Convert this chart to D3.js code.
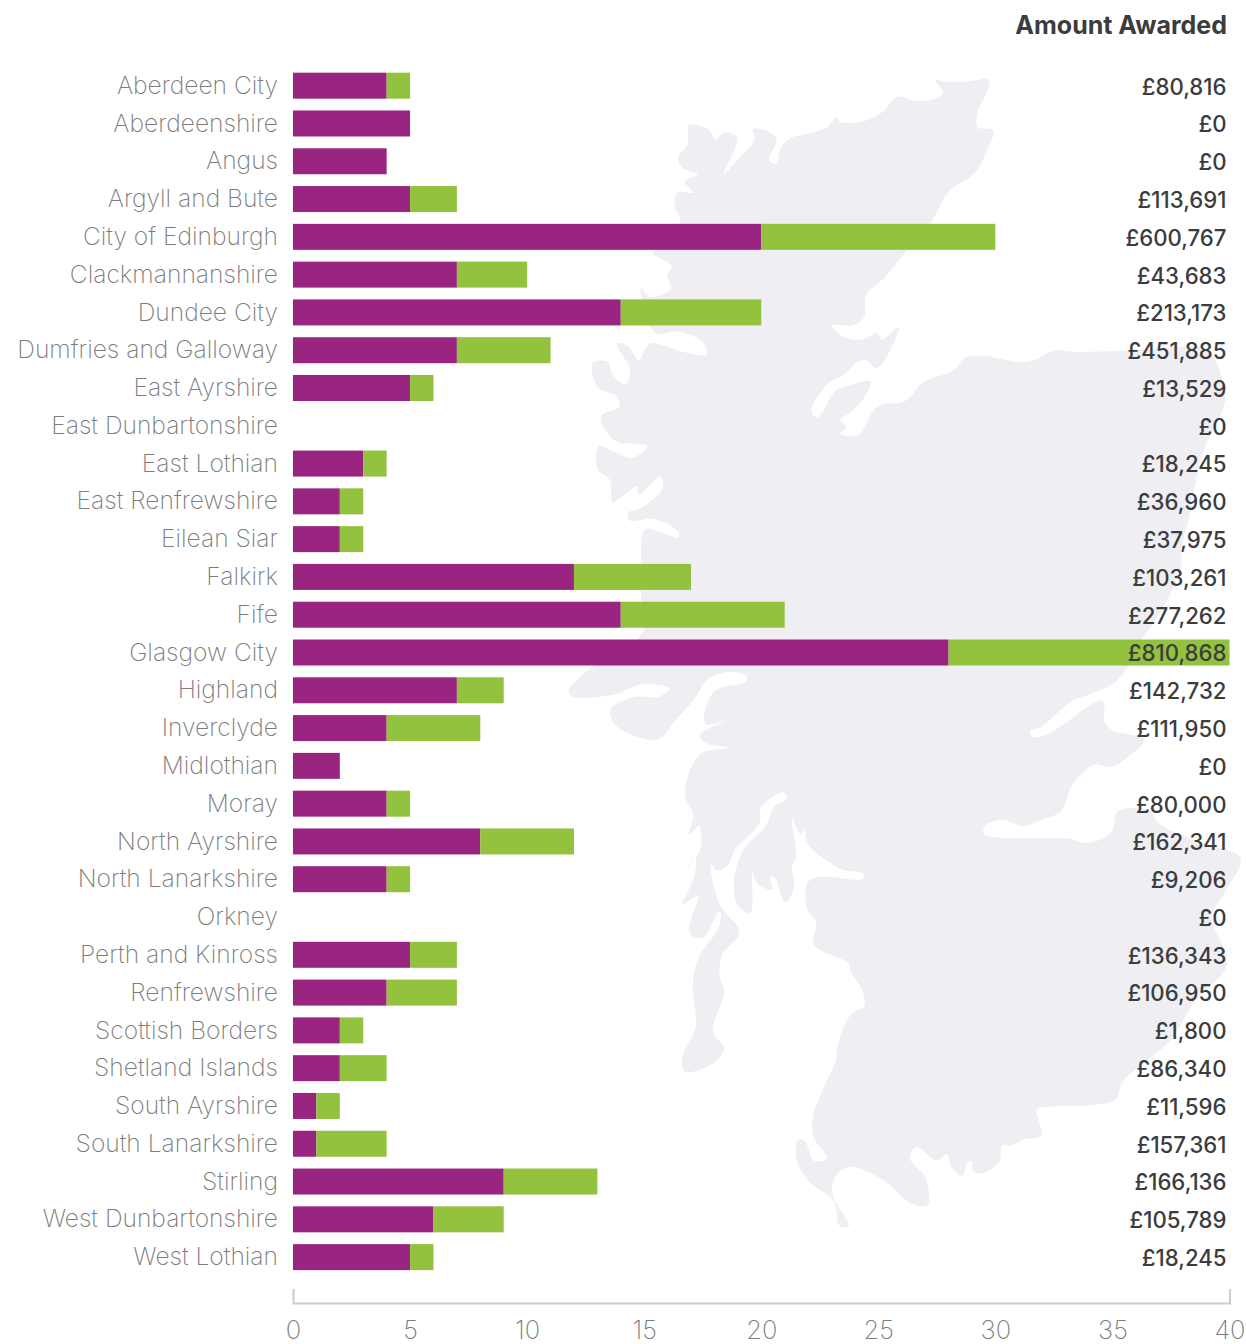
<!DOCTYPE html>
<html>
<head>
<meta charset="utf-8">
<script src="https://cdnjs.cloudflare.com/ajax/libs/d3/7.8.5/d3.min.js"></script>
<style>
  html, body { margin: 0; padding: 0; background: #fff; }
  svg { display: block; }
  .cat { font-family: Inter, sans-serif; font-weight: 200; font-size: 24.6px; fill: #7c7c7c; }
  .val { font-family: Inter, sans-serif; font-weight: 500; font-size: 22.2px; fill: #3a3c3e; }
  .title { font-family: Inter, sans-serif; font-weight: 700; font-size: 25px; fill: #3a3c3e; }
  .x-axis text { font-family: Inter, sans-serif; font-weight: 200; font-size: 25.5px; fill: #7c7c7c; }
</style>
</head>
<body>
<div id="chart"></div>
<script>
var categories = ["Aberdeen City", "Aberdeenshire", "Angus", "Argyll and Bute", "City of Edinburgh",
  "Clackmannanshire", "Dundee City", "Dumfries and Galloway", "East Ayrshire", "East Dunbartonshire",
  "East Lothian", "East Renfrewshire", "Eilean Siar", "Falkirk", "Fife", "Glasgow City", "Highland",
  "Inverclyde", "Midlothian", "Moray", "North Ayrshire", "North Lanarkshire", "Orkney",
  "Perth and Kinross", "Renfrewshire", "Scottish Borders", "Shetland Islands", "South Ayrshire",
  "South Lanarkshire", "Stirling", "West Dunbartonshire", "West Lothian"];
var purpleValues = [4, 5, 4, 5, 20, 7, 14, 7, 5, 0, 3, 2, 2, 12, 14, 28, 7, 4, 2, 4, 8, 4, 0, 5, 4, 2, 2, 1, 1, 9, 6, 5];
var greenValues = [1, 0, 0, 2, 10, 3, 6, 4, 1, 0, 1, 1, 1, 5, 7, 12, 2, 4, 0, 1, 4, 1, 0, 2, 3, 1, 2, 1, 3, 4, 3, 1];
var amounts = [80816, 0, 0, 113691, 600767, 43683, 213173, 451885, 13529, 0, 18245, 36960, 37975, 103261,
  277262, 810868, 142732, 111950, 0, 80000, 162341, 9206, 0, 136343, 106950, 1800, 86340, 11596, 157361,
  166136, 105789, 18245];
var xTicks = [0, 5, 10, 15, 20, 25, 30, 35, 40];

// map outline in crop coordinates
var mapNorth = [[295,160],[340,170],[355,195],[375,178],[405,190],[375,278],[410,240],[445,195],[440,170],[470,172],[495,195],[478,245],[495,255],[505,215],[530,190],[570,180],[610,165],[632,140],[640,152],[700,148],[740,125],[770,90],[815,100],[865,92],[875,75],[858,50],[895,55],[935,52],[980,48],
  [975,80],[955,125],[955,165],[990,172],[975,225],[945,280],[890,320],[850,395],[790,470],[740,535],[700,575],[695,630],[670,650],[622,650],[650,680],[690,685],[725,670],[735,685],[775,655],[725,755],[700,735],[680,740],[650,770],[610,795],[575,860],[590,875],[630,810],[660,798],[710,788],[690,835],[655,870],[640,880],[655,900],[640,915],[680,920],[725,850],[790,835],[830,790],[900,760],[925,730],[970,725],[1050,740],[1085,735],[1130,712],[1170,715],[1300,712],[1390,705],[1470,705],[1500,740],[1520,830],[1510,870],[1470,960],[1450,1050],[1440,1110],[1420,1200],[1420,1240],[1380,1340],[1330,1420]];
var mapSouth = [[1275,0],[1220,30],[1170,50],[1100,110],[1075,120],[1080,135],[1120,125],[1240,50],[1245,100],[1265,120],[1335,140],[1300,180],[1260,205],[1220,200],[1170,250],[1145,310],[1100,330],[1060,345],[1010,330],[970,345],[970,365],[1000,372],[1165,375],[1205,385],[1260,360],[1275,310],[1350,310],[1370,340],[1470,385],[1555,420],[1520,500],[1490,560],[1525,670],[1450,760],[1395,850],[1340,900],[1285,950],[1270,990],[1200,1005],[1115,1008],[1090,1015],[1100,1075],[1060,1085],[1030,1100],[1010,1100],[1005,1135],[965,1165],[945,1160],[940,1135],[930,1140],[920,1170],[895,1150],[885,1120],[860,1135],[815,1103],[800,1130],[835,1175],[840,1240],[800,1235],[745,1185],[660,1150],[625,1180],[625,1220],[660,1290],[640,1290],[625,1230],[570,1185],[540,1130],[545,1085],[560,1090],[580,1135],[610,1130],[580,1080],[578,1030],[600,970],[630,900],[635,860],[665,790],[695,770],[690,730],[665,690],[660,670],[600,640],[580,625],[585,570],[565,540],[565,480],[590,465],[690,470],[695,458],[640,445],[565,385],[560,350],[550,365],[530,325],[540,420],[530,440],[535,490],[515,525],[490,465],[480,465],[485,495],[450,480],[440,455],[435,550],[405,530],[398,470],[420,400],[470,345],[490,300],[520,280],[510,265],[460,300],[455,340],[400,400],[385,435],[360,450],[345,435],[365,530],[410,595],[370,650],[365,700],[375,735],[350,830],[375,870],[350,905],[285,925],[280,890],[310,820],[303,720],[315,660],[365,580],[365,545],[325,610],[295,595],[315,510],[280,530],[305,470],[310,420],[285,450],[320,400],[318,345],[295,365],[305,320],[285,270],[320,175],[385,160],[335,150],[320,130],[380,95],[335,105],[330,80],[355,25],[425,5],[425,-10],[375,-18],[335,0],[310,40],[260,100],[225,140],[130,110],[115,70],[170,40],[225,40],[250,20],[190,10],[120,35],[30,40],[20,25],[60,-20]];
var mapWest = [[190,1400],[185,1310],[185,1220],[195,1150],[270,1170],[270,1155],[215,1125],[160,1128],[155,1110],[190,1095],[235,1050],[230,1020],[180,1065],[175,1045],[120,1083],[115,1030],[85,1000],[90,945],[120,958],[165,975],[200,945],[165,940],[130,935],[100,900],[95,870],[135,850],[130,825],[85,800],[75,742],[110,740],[120,770],[150,795],[160,760],[130,695],[155,700],[180,735],[205,695],[240,700],[280,715],[335,722],[325,690],[270,665],[220,670],[190,600],[185,560],[205,580],[255,560],[245,530],[255,505],[210,470],[240,430],[275,395],[262,360],[268,325],[305,325],[285,298],[315,280],[280,265],[270,240],[292,205]];

var width = 1246;
var height = 1344;

var margin = { left: 293, right: 16.5, top: 60.9, bottom: 62.1 };

var svg = d3.select("#chart")
  .append("svg")
  .attr("width", width)
  .attr("height", height);

// crops were read at different scales in x and y
var cropX = d3.scaleLinear().domain([0, 1568]).range([560, 1246]);
var cropYTop = d3.scaleLinear().domain([0, 1568]).range([60, 700]);
var cropYBottom = d3.scaleLinear().domain([0, 1568]).range([680, 1344]);

var outline = mapNorth.map(function(p) { return [cropX(p[0]), cropYTop(p[1])]; })
  .concat(mapSouth.map(function(p) { return [cropX(p[0]), cropYBottom(p[1])]; }))
  .concat(mapWest.map(function(p) { return [cropX(p[0]), cropYTop(p[1])]; }));

svg.append("path")
  .attr("d", d3.line().curve(d3.curveCatmullRomClosed.alpha(0.5))(outline))
  .attr("fill", "#eeeef3");

var x = d3.scaleLinear()
  .domain([0, 40])
  .range([margin.left, width - margin.right]);

var y = d3.scaleBand()
  .domain(categories)
  .range([margin.top, height - margin.bottom])
  .padding(0.312);

var rows = categories.map(function(c, i) {
  return { category: c, purple: purpleValues[i], green: greenValues[i], amount: amounts[i] };
});

svg.selectAll(".bar-purple")
  .data(rows)
  .enter()
  .append("rect")
  .attr("class", "bar-purple")
  .attr("x", x(0))
  .attr("y", function(d) { return y(d.category); })
  .attr("width", function(d) { return x(d.purple) - x(0); })
  .attr("height", y.bandwidth())
  .attr("fill", "#9a2581");

svg.selectAll(".bar-green")
  .data(rows)
  .enter()
  .append("rect")
  .attr("class", "bar-green")
  .attr("x", function(d) { return x(d.purple); })
  .attr("y", function(d) { return y(d.category); })
  .attr("width", function(d) { return x(d.purple + d.green) - x(d.purple); })
  .attr("height", y.bandwidth())
  .attr("fill", "#92c23e");

svg.selectAll(".cat")
  .data(rows)
  .enter()
  .append("text")
  .attr("class", "cat")
  .attr("x", 278)
  .attr("y", function(d) { return y(d.category) + y.bandwidth() / 2; })
  .attr("dy", "0.33em")
  .attr("text-anchor", "end")
  .text(function(d) { return d.category; });

svg.selectAll(".val")
  .data(rows)
  .enter()
  .append("text")
  .attr("class", "val")
  .attr("x", 1226.5)
  .attr("y", function(d) { return y(d.category) + y.bandwidth() / 2; })
  .attr("dy", "0.4em")
  .attr("text-anchor", "end")
  .text(function(d) { return "£" + d3.format(",")(d.amount); });

svg.append("text")
  .attr("class", "title")
  .attr("x", 1227)
  .attr("y", 34)
  .attr("text-anchor", "end")
  .text("Amount Awarded");

var xAxisGroup = svg.append("g")
  .attr("class", "x-axis")
  .attr("transform", "translate(0,1303)")
  .call(d3.axisBottom(x).tickValues(xTicks).tickSizeInner(0).tickSizeOuter(-14).tickPadding(18));

xAxisGroup.select(".domain")
  .attr("stroke", "#cccccc")
  .attr("stroke-width", 2);
</script>
</body>
</html>
